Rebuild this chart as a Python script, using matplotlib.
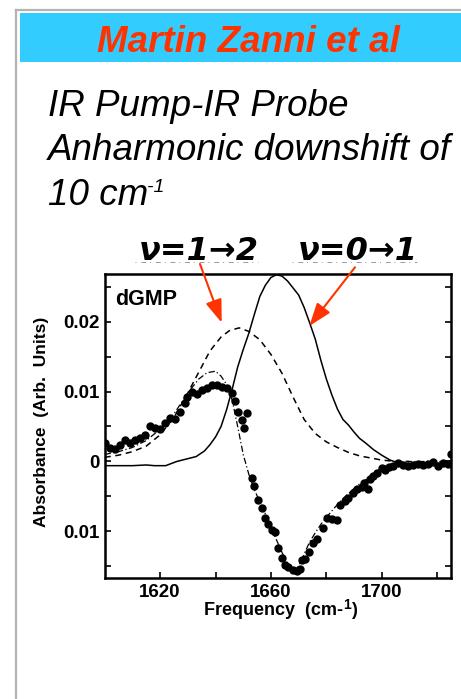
import matplotlib
matplotlib.use('Agg')
import matplotlib.pyplot as plt
from matplotlib.patches import Rectangle, FancyArrowPatch
from matplotlib.lines import Line2D

plt.rcParams['font.family'] = ['Liberation Sans', 'DejaVu Sans']

# linear absorption (v=0->1), solid
lin_x = [1600, 1610, 1615, 1618, 1622, 1626, 1630, 1633, 1636, 1638, 1640, 1642, 1644, 1646, 1648,
         1650, 1652, 1654, 1656, 1658, 1660, 1662, 1664, 1666, 1668, 1670, 1672, 1674, 1676, 1678,
         1680, 1682, 1684, 1686, 1688, 1690, 1692, 1694, 1697, 1700, 1703, 1706, 1710, 1715, 1720, 1725]
lin_y = [-0.0006, -0.0006, -0.0005, -0.0006, -0.0006, 0.0, 0.0004, 0.0007, 0.0015, 0.0024, 0.0035,
         0.005, 0.0074, 0.0103, 0.0135, 0.016, 0.0183, 0.021, 0.0236, 0.0252, 0.0263, 0.0267, 0.0265,
         0.0258, 0.0248, 0.0238, 0.022, 0.0198, 0.0175, 0.0145, 0.0118, 0.0095, 0.0075, 0.006, 0.0052,
         0.0042, 0.0033, 0.0027, 0.0017, 0.0009, 0.0002, -0.0002, -0.0003, -0.0002, -0.0003, -0.0002]

# v=1->2 band, dashed
exc_x = [1600, 1605, 1610, 1615, 1620, 1625, 1630, 1634, 1638, 1642, 1645, 1648.5, 1652, 1656, 1660,
         1664, 1668, 1672, 1676, 1680, 1684, 1688, 1692, 1696, 1700, 1705, 1710]
exc_y = [0.0006, 0.0009, 0.0014, 0.0022, 0.0038, 0.0063, 0.0098, 0.0128, 0.0158, 0.0178, 0.0187,
         0.0191, 0.0186, 0.0174, 0.0153, 0.0126, 0.0092, 0.0060, 0.0040, 0.0028, 0.0020, 0.0013,
         0.0008, 0.0005, 0.0002, 0.0, 0.0]

# pump-probe fit, dash-dot
fit_x = [1600, 1605, 1610, 1615, 1620, 1625, 1630, 1634, 1637, 1640, 1642, 1644, 1646, 1648, 1650,
         1652, 1654, 1656, 1658, 1660, 1662, 1664, 1666, 1668, 1670, 1672, 1674, 1676, 1678, 1680,
         1683, 1686, 1689, 1692, 1695, 1698, 1701, 1704, 1708, 1715, 1725]
fit_y = [0.0010, 0.0014, 0.0020, 0.0030, 0.0046, 0.0068, 0.0098, 0.0118, 0.0127, 0.0129, 0.0122,
         0.0110, 0.0088, 0.0050, 0.0010, -0.0018, -0.0040, -0.0058, -0.0075, -0.0093, -0.0112,
         -0.0130, -0.0146, -0.0157, -0.0150, -0.0132, -0.0115, -0.0102, -0.0090, -0.0080, -0.0066,
         -0.0053, -0.0042, -0.0032, -0.0024, -0.0014, -0.0007, -0.0003, 0.0, 0.0, 0.0]

# measured pump-probe points
dots_x = [1600.1, 1601.9, 1603.7, 1605.5, 1607.3, 1609.1, 1611.0, 1612.7, 1614.5, 1616.4, 1618.2,
          1620.0, 1621.8, 1623.6, 1625.4, 1627.2, 1629.0, 1629.8, 1631.4, 1633.2, 1635.0, 1636.8,
          1638.6, 1640.4, 1642.2, 1644.0, 1645.8, 1647.0, 1648.2, 1649.5, 1650.3, 1651.3, 1653.0,
          1653.9, 1655.5, 1656.7, 1657.9, 1659.1, 1660.3, 1661.5, 1662.7, 1663.9, 1665.1, 1666.3,
          1667.9, 1669.3, 1670.5, 1671.1, 1672.3, 1673.8, 1675.3, 1676.8, 1678.9, 1680.4, 1681.9,
          1683.7, 1685.0, 1686.8, 1688.0, 1689.7, 1691.2, 1692.8, 1693.6, 1694.9, 1695.8, 1697.0,
          1698.4, 1700.0, 1701.2, 1702.7, 1704.2, 1706.0, 1707.8, 1709.6, 1711.4, 1713.2, 1715.0,
          1716.8, 1718.6, 1720.4, 1722.2, 1724.0, 1724.9]
dots_y = [0.0026, 0.0019, 0.0018, 0.0024, 0.0031, 0.0026, 0.0031, 0.0033, 0.0038, 0.0051, 0.0048,
          0.0046, 0.0055, 0.0062, 0.0061, 0.0071, 0.0083, 0.0092, 0.0100, 0.0097, 0.0102, 0.0105,
          0.0110, 0.0110, 0.0107, 0.0105, 0.0098, 0.0086, 0.0071, 0.0060, 0.0048, 0.0070, -0.0024,
          -0.0035, -0.0055, -0.0067, -0.0081, -0.0090, -0.0098, -0.0101, -0.0124, -0.0138, -0.0148,
          -0.0151, -0.0155, -0.0157, -0.0154, -0.0141, -0.0139, -0.0130, -0.0117, -0.0111, -0.0095,
          -0.0081, -0.0082, -0.0084, -0.0062, -0.0057, -0.0052, -0.0045, -0.0040, -0.0036, -0.0031,
          -0.0040, -0.0025, -0.0021, -0.0017, -0.0009, -0.0012, -0.0008, -0.0007, -0.0002, -0.0005,
          -0.0006, -0.0005, -0.0003, -0.0005, -0.0003, -0.0001, -0.0007, -0.0002, -0.0003, 0.0010]

x_ticks = [1620, 1660, 1700]
x_minor = [1640, 1680, 1720]
y_ticks = [0.02, 0.01, 0, -0.01]
y_labels = ['0.02', '0.01', '0', '0.01']
y_minor = [0.025, 0.015, 0.005, -0.005, -0.015]

W, H = 461, 699


def fx(px):
    return px / W


def fy(py):
    return 1 - py / H


fig = plt.figure(figsize=(W / 100, H / 100), dpi=100)
fig.patch.set_facecolor('white')

# slide frame and title band
fig.add_artist(Line2D([fx(16), fx(16)], [fy(10), 0], color='#b4b4b4', lw=1.6))
fig.add_artist(Line2D([fx(16), 1], [fy(10), fy(10)], color='#b4b4b4', lw=1.6))
fig.add_artist(Rectangle((fx(20), fy(62)), 1 - fx(20), 49 / H, transform=fig.transFigure,
                         facecolor='#33ccff', edgecolor='none'))
fig.text(fx(248), fy(51.5), 'Martin Zanni et al', ha='center', va='baseline', fontsize=26.5,
         weight='bold', style='italic', color='#ff3300')

fig.text(fx(48), fy(116.5), 'IR Pump-IR Probe', va='baseline', fontsize=26.5, style='italic')
fig.text(fx(48), fy(160.5), 'Anharmonic downshift of', va='baseline', fontsize=26.5, style='italic')
t10 = fig.text(fx(48), fy(205), '10 cm', va='baseline', fontsize=26.5, style='italic')
renderer = fig.canvas.get_renderer()
x_end = t10.get_window_extent(renderer).x1
fig.text(x_end / W - 0.003, fy(192), '-1', va='baseline', fontsize=14, style='italic')

# main axes
ax = fig.add_axes([fx(104.7), fy(578.3), (451 - 104.7) / W, (578.3 - 274) / H])
ax.plot(lin_x, lin_y, color='black', lw=1.1, ls='-')
ax.plot(exc_x, exc_y, color='black', lw=1.1, ls=(0, (4, 3)))
ax.plot(fit_x, fit_y, color='black', lw=0.9, ls=(0, (5, 2, 1, 2)))
ax.plot(dots_x, dots_y, 'o', color='black', ms=5, mec='black')

ax.set_xlim(1600, 1725)
ax.set_ylim(-0.0167, 0.0268)
ax.set_xticks(x_ticks)
ax.set_xticks(x_minor, minor=True)
ax.set_yticks(y_ticks)
ax.set_yticklabels(y_labels)
ax.set_yticks(y_minor, minor=True)
for lab in ax.get_xticklabels() + ax.get_yticklabels():
    lab.set_fontweight('bold')
    lab.set_fontsize(13.5)
ax.tick_params(which='both', direction='in', length=4, width=1.2, right=True, top=False)
ax.tick_params(axis='x', pad=4)
ax.tick_params(axis='y', pad=4)
for sp in ax.spines.values():
    sp.set_linewidth(1.8)

ax.text(0.03, 0.898, 'dGMP', transform=ax.transAxes, fontsize=15.5, weight='bold', va='baseline')

fig.text(fx(41.5), fy(421.5), 'Absorbance  (Arb.  Units)', rotation=90, ha='center', va='center',
         fontsize=12.5, weight='bold')
xl = fig.text(fx(204), fy(615), 'Frequency  (cm-', ha='left', va='baseline', fontsize=13, weight='bold')
x_end = xl.get_window_extent(renderer).x1
t1 = fig.text(x_end / W, fy(609), '1', ha='left', va='baseline', fontsize=10, weight='bold')
x_end = t1.get_window_extent(renderer).x1
fig.text(x_end / W, fy(615), ')', ha='left', va='baseline', fontsize=13, weight='bold')

# transition labels with arrows (faint broken underline left over in the slide)
for x0, x1 in [(135, 258), (292, 417)]:
    fig.add_artist(Line2D([fx(x0), fx(x1)], [fy(262), fy(262)], color='#9a9a9a', lw=0.7,
                          ls=(0, (1, 5, 5, 4))))
fig.text(fx(199), fy(260.5), 'ν=1→2', ha='center', va='baseline', fontsize=23, weight='bold',
         style='italic', family='DejaVu Sans')
fig.text(fx(358), fy(260.5), 'ν=0→1', ha='center', va='baseline', fontsize=23, weight='bold',
         style='italic', family='DejaVu Sans')
for (x0, y0), (x1, y1) in [((200, 264), (221.7, 322.7)), ((355, 267.3), (309.3, 326))]:
    fig.add_artist(FancyArrowPatch((fx(x0), fy(y0)), (fx(x1), fy(y1)), transform=fig.transFigure,
                                   arrowstyle='-|>,head_length=14,head_width=5', mutation_scale=1,
                                   color='#ff3300', lw=1.5, shrinkA=0, shrinkB=0))

fig.savefig('out.png', dpi=100)
